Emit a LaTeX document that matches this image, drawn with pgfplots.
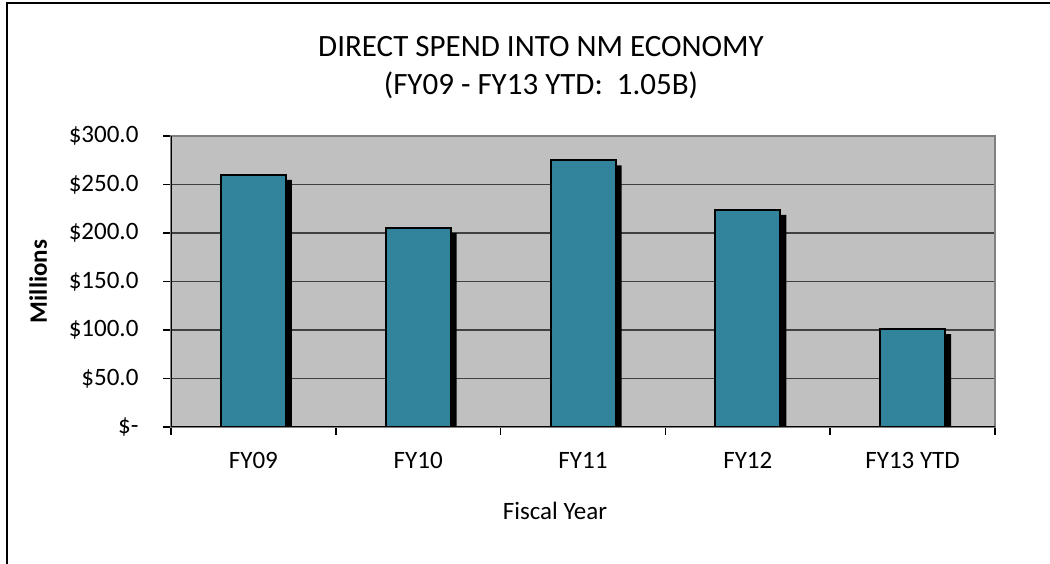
\documentclass[border=0pt]{standalone}
\usepackage{fontspec}
\setmainfont{Carlito}
\usepackage{pgfplots}
\pgfplotsset{compat=1.18}
\definecolor{barteal}{HTML}{31849B}
\definecolor{plotgray}{HTML}{C0C0C0}
\begin{document}
\begin{tikzpicture}[x=1pt,y=1pt]
\useasboundingbox (0,0) rectangle (1050,564);
\fill[white] (0,0) rectangle (1050,564);
\draw[line width=2pt] (7,-5) -- (7,561) -- (1060,561);
\node[font=\fontsize{31}{35}\selectfont] at (541,517) {DIRECT SPEND INTO NM ECONOMY};
\node[font=\fontsize{31}{35}\selectfont] at (541,479) {(FY09 - FY13 YTD:\ \ 1.05B)};
\begin{axis}[
  at={(171pt,137pt)}, anchor=south west,
  scale only axis, width=824pt, height=291pt,
  xmin=-0.5, xmax=4.5, ymin=0, ymax=300,
  axis background/.style={fill=plotgray},
  axis line style={draw=gray, line width=2pt},
  ytick={0,50,...,300},
  yticklabels={\$-,\$50.0,\$100.0,\$150.0,\$200.0,\$250.0,\$300.0},
  xtick={0,1,2,3,4},
  xticklabels={FY09,FY10,FY11,FY12,FY13 YTD},
  minor xtick={-0.5,0.5,1.5,2.5,3.5,4.5},
  ymajorgrids,
  grid style={draw=black!75, line width=1.5pt},
  tick align=outside,
  ytick style={draw=black, line width=1.5pt},
  major tick length=8pt,
  major x tick style={draw=none},
  minor x tick style={draw=black, line width=1.5pt},
  minor tick length=8pt,
  xtick pos=bottom, ytick pos=left,
  tick label style={font=\fontsize{25}{29}\selectfont},
  yticklabel style={xshift=-21pt},
  xticklabel style={yshift=-14pt},
  xlabel={Fiscal Year},
  ylabel={\bfseries Millions},
  label style={font=\fontsize{25}{29}\selectfont},
  xlabel style={yshift=-26pt, xshift=-28pt},
  ylabel style={yshift=15pt},
  clip=true,
]
\addplot[ybar, bar width=65pt, bar shift=6pt, fill=black, draw=none]
  coordinates {(0,254.8) (1,199.8) (2,269.8) (3,218.8) (4,95.8)};
\addplot[ybar, bar width=65pt, bar shift=0pt, fill=barteal, draw=black, line width=2pt]
  coordinates {(0,260) (1,205) (2,275) (3,224) (4,101)};
\draw[black, line width=2pt] (rel axis cs:0,1) -- (rel axis cs:0,0) -- (rel axis cs:1,0);
\end{axis}
\end{tikzpicture}
\end{document}
